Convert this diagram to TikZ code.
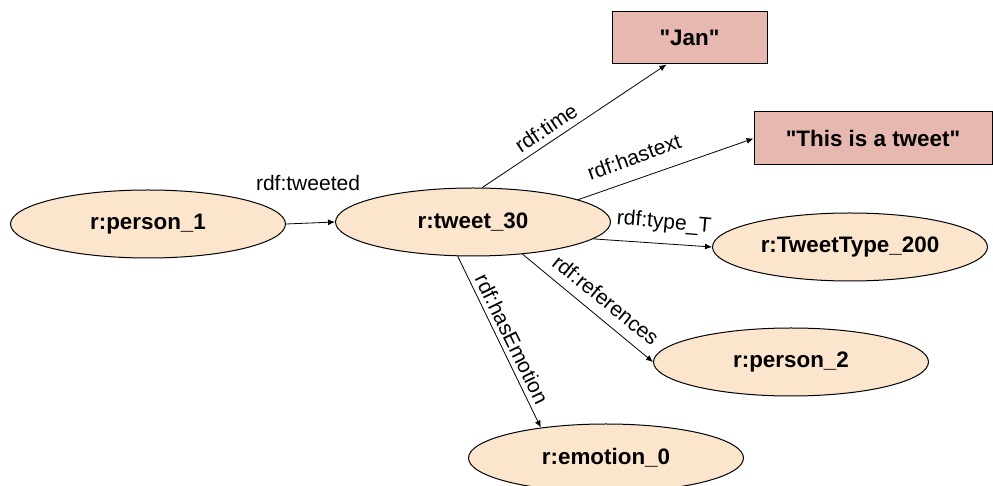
\documentclass[tikz,border=0pt]{standalone}
\usepackage{fontspec}
\setmainfont{Liberation Sans}[Ligatures=TeXOff]
\usetikzlibrary{shapes.geometric,arrows.meta}

\definecolor{resfill}{HTML}{FCE5CD}
\definecolor{litfill}{HTML}{E6B8AF}

\tikzset{
  res/.style={ellipse, draw=black, line width=0.5pt, fill=resfill, inner sep=0pt,
    minimum width=137.5pt, minimum height=34pt, font=\fontsize{11.2}{13}\selectfont\bfseries},
  lit/.style={rectangle, draw=black, line width=0.5pt, fill=litfill, inner sep=0pt,
    font=\fontsize{11.2}{13}\selectfont\bfseries},
  rel/.style={-{Latex[length=3.5pt,width=3pt]}, line width=0.4pt},
  lbl/.style={font=\fontsize{10.5}{12}\selectfont, inner sep=1pt}
}

\begin{document}
\begin{tikzpicture}[x=0.5pt, y=-0.5pt]
  \useasboundingbox (0,0) rectangle (993,486);

  % resources
  \node[res] (person1) at (148,224) {r:person\_1};
  \node[res] (tweet) at (473,222) {r:tweet\_30};
  \node[res] (ttype) at (850,247) {r:TweetType\_200};
  \node[res] (person2) at (791,362) {r:person\_2};
  \node[res] (emo) at (606,458) {r:emotion\_0};

  % literals
  \node[lit, minimum width=77.5pt, minimum height=26pt] (jan) at (689.5,38) {"Jan"};
  \node[lit, minimum width=119pt, minimum height=26.5pt] (txt) at (873,138.5) {"This is a tweet"};

  % relations
  \draw[rel] (person1.east) -- (tweet.west);
  \draw[rel] (tweet.75) -- (jan.-131);
  \draw[rel] (tweet.12) -- (txt.west);
  \draw[rel] (tweet.-8) -- (ttype.west);
  \draw[rel] (tweet.-33) -- (person2.west);
  \draw[rel] (tweet.-114) -- (emo.155);

  % relation labels
  \node[lbl] (ltweeted) at (308,183) {rdf:tweeted};
  \node[lbl, rotate=34] (ltime) at (546,128) {rdf:time};
  \node[lbl, rotate=20] (lhastext) at (634,157) {rdf:hastext};
  \node[lbl, rotate=-5] (ltype) at (664,223) {rdf:type\_T};
  \node[lbl, rotate=-39] (lref) at (606,300) {rdf:references};
  \node[lbl, rotate=-64] (lemo) at (512,339) {rdf:hasEmotion};
\end{tikzpicture}
\end{document}
